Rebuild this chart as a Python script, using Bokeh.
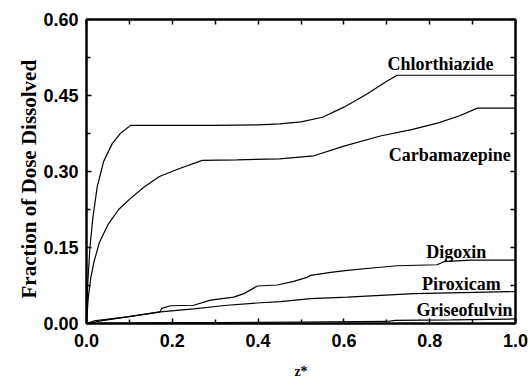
from bokeh.plotting import figure
from bokeh.models import LinearAxis, FixedTicker, Range1d, ColumnDataSource, NumeralTickFormatter, Title
from bokeh.core.properties import value
from bokeh.embed import file_html
from bokeh.resources import INLINE

# ---- data ----
chl_x = [0.0, 0.003, 0.008, 0.015, 0.025, 0.04, 0.06, 0.08, 0.103, 0.2, 0.3, 0.4, 0.45, 0.5, 0.55, 0.6, 0.65, 0.7, 0.724, 1.0]
chl_y = [0.0, 0.08, 0.15, 0.21, 0.27, 0.32, 0.355, 0.376, 0.391, 0.391, 0.391, 0.392, 0.394, 0.398, 0.407, 0.427, 0.451, 0.478, 0.49, 0.49]

carb_x = [0.0, 0.004, 0.01, 0.017, 0.03, 0.05, 0.075, 0.1, 0.135, 0.17, 0.22, 0.27, 0.35, 0.45, 0.53, 0.6, 0.685, 0.76, 0.82, 0.87, 0.911, 1.0]
carb_y = [0.0, 0.05, 0.09, 0.12, 0.16, 0.195, 0.225, 0.245, 0.27, 0.29, 0.307, 0.322, 0.323, 0.325, 0.331, 0.35, 0.37, 0.383, 0.396, 0.41, 0.425, 0.425]

dig_x = [0.0, 0.033, 0.095, 0.172, 0.175, 0.196, 0.25, 0.289, 0.343, 0.367, 0.398, 0.445, 0.483, 0.514, 0.522, 0.569, 0.608, 0.685, 0.724, 0.817, 0.833, 0.895, 1.0]
dig_y = [0.0, 0.005, 0.013, 0.023, 0.030, 0.035, 0.036, 0.046, 0.052, 0.059, 0.074, 0.076, 0.083, 0.091, 0.095, 0.101, 0.105, 0.111, 0.114, 0.116, 0.122, 0.125, 0.125]

pir_x = [0.0, 0.017, 0.095, 0.172, 0.25, 0.328, 0.406, 0.452, 0.522, 0.608, 0.763, 1.0]
pir_y = [0.0, 0.005, 0.013, 0.023, 0.029, 0.036, 0.041, 0.043, 0.049, 0.052, 0.059, 0.063]

gri_x = [0.0, 0.1, 0.3, 0.5, 0.7, 0.72, 0.85, 1.0]
gri_y = [0.0, 0.001, 0.002, 0.003, 0.004, 0.006, 0.007, 0.009]

lab_text = ["Chlorthiazide", "Carbamazepine", "Digoxin", "Piroxicam", "Griseofulvin"]
lab_x = [0.825, 0.847, 0.862, 0.874, 0.881]
lab_y = [0.512, 0.333, 0.142, 0.078, 0.026]

x_ticks = [0.0, 0.2, 0.4, 0.6, 0.8, 1.0]
y_ticks = [0.0, 0.15, 0.30, 0.45, 0.60]
x_minor = [0.1, 0.3, 0.5, 0.7, 0.9]
y_minor = [0.075, 0.225, 0.375, 0.525]

# ---- figure ----
p = figure(width=532, height=381, output_backend="svg", toolbar_location=None,
           x_range=Range1d(0, 1.0), y_range=Range1d(0, 0.60),
           min_border_left=86, min_border_right=17, min_border_top=19, min_border_bottom=56)
p.grid.visible = False
p.outline_line_color = "black"
p.outline_line_width = 2
p.background_fill_color = "white"
p.border_fill_color = "white"

for xs, ys in [(chl_x, chl_y), (carb_x, carb_y), (dig_x, dig_y), (pir_x, pir_y), (gri_x, gri_y)]:
    p.line(xs, ys, line_color="black", line_width=1.2)

src = ColumnDataSource(dict(x=lab_x, y=lab_y, t=lab_text))
p.text(x="x", y="y", text="t", source=src, text_font=value("Liberation Serif"),
       text_font_style="bold", text_font_size="18px", text_align="center",
       text_baseline="middle", text_color="black")

def style_axis(ax, ticks, minor):
    ax.ticker = FixedTicker(ticks=ticks, minor_ticks=minor)
    ax.axis_line_width = 2
    ax.axis_line_color = "black"
    ax.major_tick_in = 5
    ax.major_tick_out = 0
    ax.minor_tick_in = 4
    ax.minor_tick_out = 0
    ax.major_tick_line_width = 1.5
    ax.minor_tick_line_width = 1.5
    ax.major_tick_line_color = "black"
    ax.minor_tick_line_color = "black"
    ax.major_label_text_font = "Liberation Sans"
    ax.major_label_text_font_style = "bold"
    ax.major_label_text_font_size = "18px"
    ax.major_label_text_color = "black"

style_axis(p.xaxis[0], x_ticks, x_minor)
style_axis(p.yaxis[0], y_ticks, y_minor)
p.xaxis[0].major_label_standoff = 10
p.yaxis[0].major_label_standoff = 8
p.xaxis[0].formatter = NumeralTickFormatter(format="0.0")
p.yaxis[0].formatter = NumeralTickFormatter(format="0.00")

p.xaxis[0].axis_label = "z*"
p.xaxis[0].axis_label_text_font = "Liberation Serif"
p.xaxis[0].axis_label_text_font_style = "bold"
p.xaxis[0].axis_label_text_font_size = "14px"
p.xaxis[0].axis_label_text_color = "black"
p.xaxis[0].axis_label_standoff = 14

# y label as a left-side title so it can be shifted like the reference
ytitle = Title(text="Fraction of Dose Dissolved", align="left", offset=25,
               text_font="Liberation Serif", text_font_style="bold",
               text_font_size="21px", text_color="black", standoff=0)
p.add_layout(ytitle, "left")

# frame ticks on top and right (ticks only, no labels)
top = LinearAxis(ticker=FixedTicker(ticks=[], minor_ticks=x_ticks + x_minor))
right = LinearAxis(ticker=FixedTicker(ticks=[], minor_ticks=y_ticks + y_minor))
for ax in (top, right):
    ax.axis_line_width = 2
    ax.axis_line_color = "black"
    ax.minor_tick_in = 5
    ax.minor_tick_out = 0
    ax.minor_tick_line_width = 1.5
    ax.minor_tick_line_color = "black"
    ax.major_tick_in = 0
    ax.major_tick_out = 0
p.add_layout(top, "above")
p.add_layout(right, "right")

open("out.html", "w").write(file_html(p, INLINE))
